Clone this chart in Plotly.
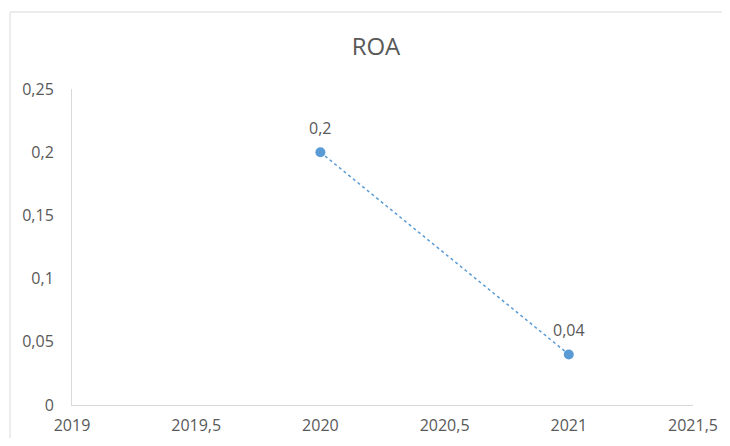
import plotly.graph_objects as go

years = [2020, 2021]
roa = [0.2, 0.04]
roa_labels = ["0,2", "0,04"]

x_tickvals = [2019, 2019.5, 2020, 2020.5, 2021, 2021.5]
x_ticktext = ["2019", "2019,5", "2020", "2020,5", "2021", "2021,5"]
y_tickvals = [0, 0.05, 0.1, 0.15, 0.2, 0.25]
y_ticktext = ["0", "0,05", "0,1", "0,15", "0,2", "0,25"]

TEXT = "#595959"
AXIS = "#d9d9d9"
BLUE = "#5b9bd5"
FONT = "Open Sans"

W, H = 714, 430

fig = go.Figure()
fig.add_trace(go.Scatter(
    x=years, y=roa, mode="lines+markers",
    line=dict(color=BLUE, width=1.5, dash="dot"),
    marker=dict(color=BLUE, size=10),
    hoverinfo="skip", showlegend=False,
))

for xv, yv, t in zip(years, roa, roa_labels):
    fig.add_annotation(x=xv, y=yv, text=t, showarrow=False, yshift=24,
                       font=dict(family=FONT, size=16, color=TEXT))

fig.add_shape(type="rect", xref="paper", yref="paper",
              x0=-0.0998, x1=1.3, y0=-0.4, y1=1.2437,
              line=dict(color=AXIS, width=1), layer="below")

fig.update_layout(
    width=W, height=H,
    margin=dict(l=64, r=29, t=81, b=33, autoexpand=False),
    paper_bgcolor="white", plot_bgcolor="white",
    title=dict(text="ROA", x=0.4895, xref="paper", xanchor="center",
               y=1 - 39 / H, yanchor="middle", automargin=False,
               font=dict(family=FONT, size=24, color=TEXT)),
    font=dict(family=FONT, size=16, color=TEXT),
)
fig.update_xaxes(range=[2019, 2021.5], tickvals=x_tickvals, ticktext=x_ticktext,
                 automargin=False,
                 showgrid=False, zeroline=False, showline=True, linecolor=AXIS,
                 linewidth=1, ticks="outside", ticklen=6, tickcolor="rgba(0,0,0,0)",
                 tickfont=dict(family=FONT, size=16, color=TEXT))
fig.update_yaxes(range=[0, 0.25], tickvals=y_tickvals, ticktext=y_ticktext,
                 automargin=False,
                 showgrid=False, zeroline=False, showline=True, linecolor=AXIS,
                 linewidth=1, ticks="outside", ticklen=14, tickcolor="rgba(0,0,0,0)",
                 tickfont=dict(family=FONT, size=16, color=TEXT))

fig.write_html("out.html")
